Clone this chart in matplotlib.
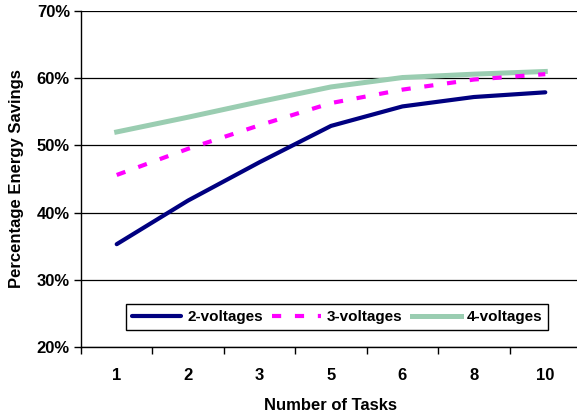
import matplotlib
matplotlib.use('Agg')
import matplotlib.pyplot as plt
from matplotlib.ticker import FixedLocator, FuncFormatter

plt.rcParams['font.family'] = ['Liberation Sans', 'DejaVu Sans']
plt.rcParams['font.weight'] = 'bold'

tasks = ['1', '2', '3', '5', '6', '8', '10']
volt2 = [35.3, 41.8, 47.5, 52.9, 55.8, 57.2, 57.9]
volt3 = [45.6, 49.5, 53.0, 56.3, 58.3, 59.8, 60.6]
volt4 = [52.0, 54.2, 56.5, 58.7, 60.1, 60.6, 61.0]

fig = plt.figure(figsize=(5.77, 4.18), dpi=100)
ax = fig.add_axes([81/577, 71/418, 500/577, 336/418])

x = range(len(tasks))
ax.plot(x, volt2, color='#000080', lw=3, solid_capstyle='round', label='2-voltages', zorder=3)
ax.plot(x, volt3, color='#ff00ff', lw=3, dashes=(2.2, 3.3), label='3-voltages', zorder=3)
ax.plot(x, volt4, color='#9acdb1', lw=3.6, label='4-voltages', zorder=2)

ax.set_xlim(-0.5, len(tasks) - 0.5)
ax.set_ylim(20, 70)
ax.set_yticks([20, 30, 40, 50, 60, 70])
ax.yaxis.set_major_formatter(FuncFormatter(lambda v, p: '%d%%' % v))
ax.set_xticks(list(x))
ax.set_xticklabels(tasks)
ax.xaxis.set_minor_locator(FixedLocator([i - 0.5 for i in range(len(tasks) + 1)]))
ax.tick_params(axis='x', which='major', length=0, pad=15, labelsize=12)
ax.tick_params(axis='x', which='minor', length=5, width=1, direction='out')
ax.tick_params(axis='y', length=5, width=1, labelsize=12, pad=3)

ax.grid(axis='y', color='black', lw=0.9)
ax.set_axisbelow(True)
for s in ['top', 'right']:
    ax.spines[s].set_visible(False)
ax.spines['left'].set_linewidth(1)
ax.spines['bottom'].set_linewidth(1)

ax.set_xlabel('Number of Tasks', fontsize=12, fontweight='bold', labelpad=11)
ax.set_ylabel('Percentage Energy Savings', fontsize=12, fontweight='bold', labelpad=9)

leg = ax.legend(loc='lower left', bbox_to_anchor=(45/500, 17/336), ncol=3, fontsize=11,
                frameon=True, fancybox=False, edgecolor='black', framealpha=1,
                handlelength=3.2, handletextpad=0.4, columnspacing=0.6, borderpad=0.4,
                borderaxespad=0)
leg.get_frame().set_linewidth(1)
for t in leg.get_texts():
    t.set_fontweight('bold')

fig.savefig('out.png', dpi=100)
